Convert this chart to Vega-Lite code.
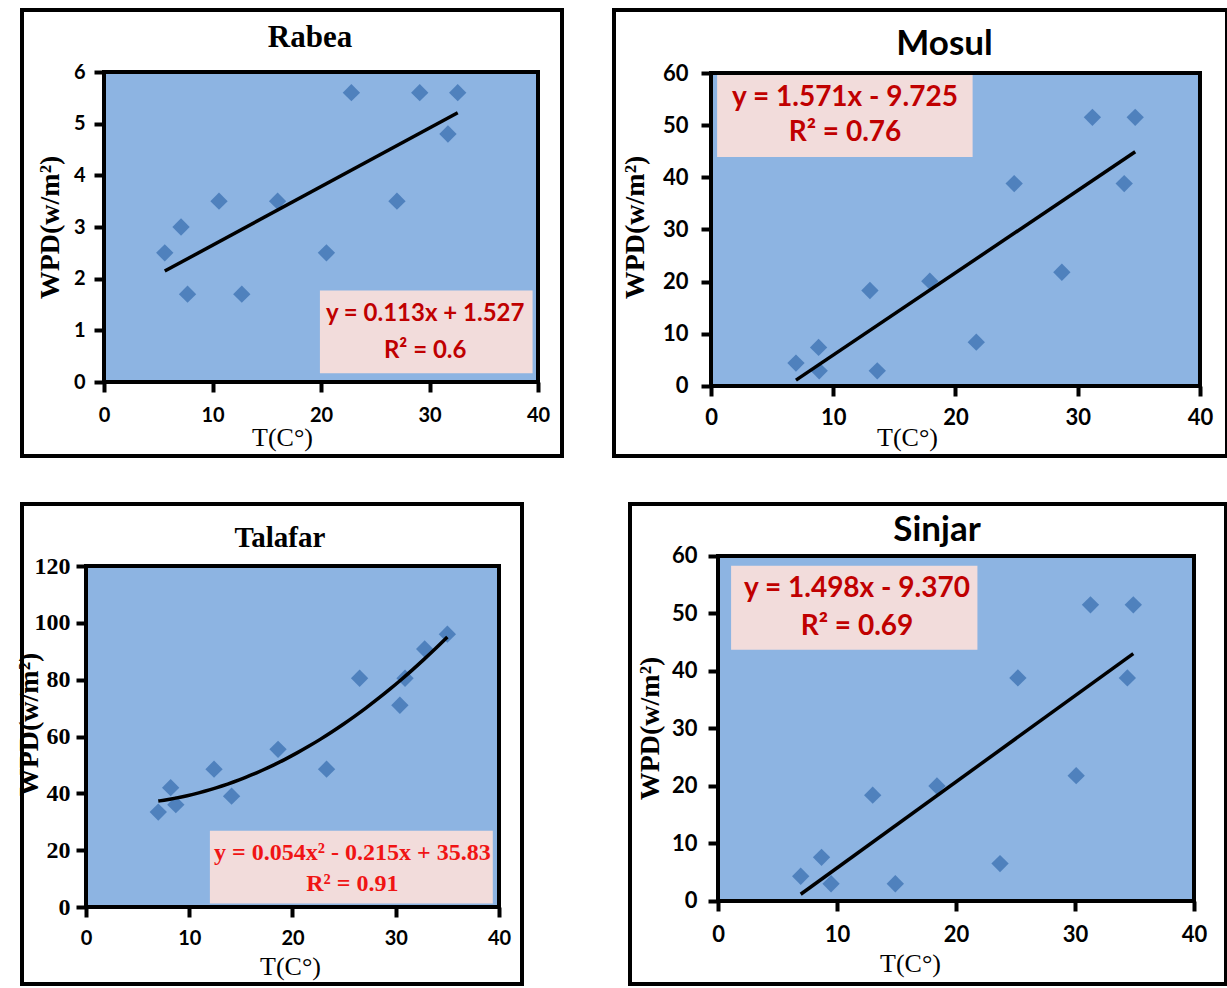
{
  "$schema": "https://vega.github.io/schema/vega-lite/v6.json",
  "background": "white",
  "padding": {"left": 13, "top": 8, "right": 0, "bottom": 0},
  "config": {
    "view": {"fill": "white", "stroke": "black", "strokeWidth": 4},
    "axis": {"domain": false, "grid": false, "ticks": true, "tickColor": "black", "tickWidth": 4, "tickSize": 10,
             "labelColor": "black", "labelFontWeight": "bold", "labelFont": "Lato", "labelFlush": false, "labelOverlap": false, "labelBound": false,
             "titleColor": "black", "titleBaseline": "middle", "titleAlign": "center"}
  },
  "datasets": {
    "rabea": [{"T":5.6,"WPD":2.5},{"T":7.1,"WPD":3.0},{"T":7.7,"WPD":1.7},{"T":10.6,"WPD":3.5},{"T":12.7,"WPD":1.7},{"T":16.0,"WPD":3.5},{"T":20.5,"WPD":2.5},{"T":22.8,"WPD":5.6},{"T":27.0,"WPD":3.5},{"T":29.1,"WPD":5.6},{"T":31.7,"WPD":4.8},{"T":32.6,"WPD":5.6}],
    "mosul": [{"T":6.95,"WPD":4.4},{"T":8.8,"WPD":7.4},{"T":8.85,"WPD":2.9},{"T":13.0,"WPD":18.3},{"T":13.6,"WPD":2.9},{"T":17.9,"WPD":20.1},{"T":21.7,"WPD":8.4},{"T":24.8,"WPD":38.8},{"T":28.7,"WPD":21.8},{"T":31.2,"WPD":51.5},{"T":33.8,"WPD":38.8},{"T":34.7,"WPD":51.5}],
    "talafar": [{"T":7.0,"WPD":33.4},{"T":8.2,"WPD":42.0},{"T":8.7,"WPD":36.0},{"T":12.4,"WPD":48.5},{"T":14.1,"WPD":39.0},{"T":18.6,"WPD":55.5},{"T":23.3,"WPD":48.5},{"T":26.5,"WPD":80.5},{"T":30.4,"WPD":71.0},{"T":30.9,"WPD":80.5},{"T":32.8,"WPD":90.8},{"T":35.0,"WPD":96.0}],
    "sinjar": [{"T":6.95,"WPD":4.3},{"T":8.7,"WPD":7.6},{"T":9.5,"WPD":3.0},{"T":13.0,"WPD":18.4},{"T":14.9,"WPD":3.0},{"T":18.4,"WPD":20.0},{"T":23.7,"WPD":6.5},{"T":25.2,"WPD":38.8},{"T":30.1,"WPD":21.8},{"T":31.3,"WPD":51.5},{"T":34.4,"WPD":38.8},{"T":34.9,"WPD":51.5}]
  },
  "vconcat": [
    {
      "hconcat": [
        {
          "width": 540, "height": 446,
          "title": {"text": "Rabea", "font": "Liberation Serif", "fontSize": 31, "fontWeight": "bold", "color": "black", "anchor": "middle", "frame": "group", "baseline": "middle", "offset": -59, "dx": 18},
          "data": {"name": "rabea"},
          "layer": [
            {"data": {"values": [{}]}, "mark": {"type": "rect", "fill": "#8DB4E2", "stroke": "black", "strokeWidth": 4},
             "encoding": {"x": {"datum": 0, "type": "quantitative", "title": "T(C°)"}, "x2": {"datum": 40}, "y": {"datum": 0, "type": "quantitative", "title": "WPD(w/m²)"}, "y2": {"datum": 6}}},
            {"mark": {"type": "point", "shape": "diamond", "filled": true, "color": "#4F81BD", "size": 300, "opacity": 1},
             "encoding": {
               "x": {"field": "T", "type": "quantitative", "title": "T(C°)", "scale": {"domain": [-7.558, 42.212], "nice": false, "zero": false},
                     "axis": {"values": [0,10,20,30,40], "offset": -74, "labelFontSize": 20, "labelPadding": 13, "titleFont": "Liberation Serif", "titleFontWeight": "normal", "titleFontSize": 26, "titleX": 260, "titleY": 55}},
               "y": {"field": "WPD", "type": "quantitative", "title": "WPD(w/m²)", "scale": {"domain": [-1.432, 7.2], "nice": false, "zero": false},
                     "axis": {"values": [0,1,2,3,4,5,6], "offset": -82, "labelFontSize": 20, "labelPadding": 9, "titleFont": "Liberation Serif", "titleFontWeight": "bold", "titleFontSize": 28, "titleAngle": -90, "titleX": -54, "titleY": 217}}
             }},
            {"transform": [{"regression": "WPD", "on": "T", "method": "linear"}], "mark": {"type": "line", "color": "black", "strokeWidth": 3.5},
             "encoding": {"x": {"field": "T", "type": "quantitative", "title": "T(C°)"}, "y": {"field": "WPD", "type": "quantitative", "title": "WPD(w/m²)"}}},
            {"data": {"values": [{}]}, "mark": {"type": "rect", "fill": "#F2DCDB"},
             "encoding": {"x": {"datum": 19.9, "type": "quantitative", "title": "T(C°)"}, "x2": {"datum": 39.5}, "y": {"datum": 0.17, "type": "quantitative", "title": "WPD(w/m²)"}, "y2": {"datum": 1.77}}},
            {"data": {"values": [{}]}, "mark": {"type": "text", "text": ["y = 0.113x + 1.527", "R² = 0.6"], "font": "Lato", "fontWeight": "bold", "fontSize": 24, "color": "#C00000", "align": "center", "baseline": "middle", "lineHeight": 37},
             "encoding": {"x": {"datum": 29.6, "type": "quantitative", "title": "T(C°)"}, "y": {"datum": 1.316, "type": "quantitative", "title": "WPD(w/m²)"}}}
          ]
        },
        {
          "width": 613, "height": 446,
          "title": {"text": "Mosul", "font": "Lato", "fontSize": 35, "fontWeight": "bold", "color": "black", "anchor": "middle", "frame": "group", "baseline": "middle", "offset": -69, "dx": 24},
          "data": {"name": "mosul"},
          "layer": [
            {"data": {"values": [{}]}, "mark": {"type": "rect", "fill": "#8DB4E2", "stroke": "black", "strokeWidth": 4},
             "encoding": {"x": {"datum": 0, "type": "quantitative", "title": "T(C°)"}, "x2": {"datum": 40}, "y": {"datum": 0, "type": "quantitative", "title": "WPD(w/m²)"}, "y2": {"datum": 60}}},
            {"mark": {"type": "point", "shape": "diamond", "filled": true, "color": "#4F81BD", "size": 300, "opacity": 1},
             "encoding": {
               "x": {"field": "T", "type": "quantitative", "title": "T(C°)", "scale": {"domain": [-7.935, 42.209], "nice": false, "zero": false},
                     "axis": {"values": [0,10,20,30,40], "offset": -70, "labelFontSize": 22, "labelPadding": 11, "titleFont": "Liberation Serif", "titleFontWeight": "normal", "titleFontSize": 26, "titleX": 293, "titleY": 51}},
               "y": {"field": "WPD", "type": "quantitative", "title": "WPD(w/m²)", "scale": {"domain": [-13.419, 72.077], "nice": false, "zero": false},
                     "axis": {"values": [0,10,20,30,40,50,60], "offset": -97, "labelFontSize": 22, "labelPadding": 13, "titleFont": "Liberation Serif", "titleFontWeight": "bold", "titleFontSize": 28, "titleAngle": -90, "titleX": -76, "titleY": 217}}
             }},
            {"transform": [{"regression": "WPD", "on": "T", "method": "linear"}], "mark": {"type": "line", "color": "black", "strokeWidth": 3.5},
             "encoding": {"x": {"field": "T", "type": "quantitative", "title": "T(C°)"}, "y": {"field": "WPD", "type": "quantitative", "title": "WPD(w/m²)"}}},
            {"data": {"values": [{}]}, "mark": {"type": "rect", "fill": "#F2DCDB"},
             "encoding": {"x": {"datum": 0.5, "type": "quantitative", "title": "T(C°)"}, "x2": {"datum": 21.4}, "y": {"datum": 43.9, "type": "quantitative", "title": "WPD(w/m²)"}, "y2": {"datum": 59.6}}},
            {"data": {"values": [{}]}, "mark": {"type": "text", "text": ["y = 1.571x - 9.725", "R² = 0.76"], "font": "Lato", "fontWeight": "bold", "fontSize": 28, "color": "#C00000", "align": "center", "baseline": "middle", "lineHeight": 35},
             "encoding": {"x": {"datum": 10.96, "type": "quantitative", "title": "T(C°)"}, "y": {"datum": 55.2, "type": "quantitative", "title": "WPD(w/m²)"}}}
          ]
        }
      ],
      "spacing": 48
    },
    {
      "hconcat": [
        {
          "width": 500, "height": 480,
          "title": {"text": "Talafar", "font": "Liberation Serif", "fontSize": 29, "fontWeight": "bold", "color": "black", "anchor": "middle", "frame": "group", "baseline": "middle", "offset": -63, "dx": 8},
          "data": {"name": "talafar"},
          "layer": [
            {"data": {"values": [{}]}, "mark": {"type": "rect", "fill": "#8DB4E2", "stroke": "black", "strokeWidth": 4},
             "encoding": {"x": {"datum": 0, "type": "quantitative", "title": "T(C°)"}, "x2": {"datum": 40}, "y": {"datum": 0, "type": "quantitative", "title": "WPD(w/m²)"}, "y2": {"datum": 120}}},
            {"mark": {"type": "point", "shape": "diamond", "filled": true, "color": "#4F81BD", "size": 300, "opacity": 1},
             "encoding": {
               "x": {"field": "T", "type": "quantitative", "title": "T(C°)", "scale": {"domain": [-6.199, 42.228], "nice": false, "zero": false},
                     "axis": {"values": [0,10,20,30,40], "offset": -77, "labelFontSize": 20, "labelPadding": 11, "titleFont": "Liberation Serif", "titleFontWeight": "normal", "titleFontSize": 26, "titleX": 268, "titleY": 59}},
               "y": {"field": "WPD", "type": "quantitative", "title": "WPD(w/m²)", "scale": {"domain": [-27.097, 141.82], "nice": false, "zero": false},
                     "axis": {"values": [0,20,40,60,80,100,120], "offset": -64, "labelFont": "Liberation Serif", "labelFontSize": 24, "labelPadding": 6, "titleFont": "Liberation Serif", "titleFontWeight": "bold", "titleFontSize": 28, "titleAngle": -90, "titleX": -57, "titleY": 220}}
             }},
            {"transform": [{"regression": "WPD", "on": "T", "method": "poly", "order": 2}], "mark": {"type": "line", "color": "black", "strokeWidth": 3.5, "interpolate": "monotone"},
             "encoding": {"x": {"field": "T", "type": "quantitative", "title": "T(C°)"}, "y": {"field": "WPD", "type": "quantitative", "title": "WPD(w/m²)"}}},
            {"data": {"values": [{}]}, "mark": {"type": "rect", "fill": "#F2DCDB"},
             "encoding": {"x": {"datum": 12.0, "type": "quantitative", "title": "T(C°)"}, "x2": {"datum": 39.4}, "y": {"datum": 1.2, "type": "quantitative", "title": "WPD(w/m²)"}, "y2": {"datum": 26.8}}},
            {"data": {"values": [{}]}, "mark": {"type": "text", "text": ["y = 0.054x² - 0.215x + 35.83", "R² = 0.91"], "font": "Liberation Serif", "fontWeight": "bold", "fontSize": 24, "color": "#F01414", "align": "center", "baseline": "middle", "lineHeight": 31},
             "encoding": {"x": {"datum": 25.8, "type": "quantitative", "title": "T(C°)"}, "y": {"datum": 19.0, "type": "quantitative", "title": "WPD(w/m²)"}}}
          ]
        },
        {
          "width": 596, "height": 480,
          "title": {"text": "Sinjar", "font": "Lato", "fontSize": 35, "fontWeight": "bold", "color": "black", "anchor": "middle", "frame": "group", "baseline": "middle", "offset": -61, "dx": 9},
          "data": {"name": "sinjar"},
          "layer": [
            {"data": {"values": [{}]}, "mark": {"type": "rect", "fill": "#8DB4E2", "stroke": "black", "strokeWidth": 4},
             "encoding": {"x": {"datum": 0, "type": "quantitative", "title": "T(C°)"}, "x2": {"datum": 40}, "y": {"datum": 0, "type": "quantitative", "title": "WPD(w/m²)"}, "y2": {"datum": 60}}},
            {"mark": {"type": "point", "shape": "diamond", "filled": true, "color": "#4F81BD", "size": 300, "opacity": 1},
             "encoding": {
               "x": {"field": "T", "type": "quantitative", "title": "T(C°)", "scale": {"domain": [-7.395, 42.689], "nice": false, "zero": false},
                     "axis": {"values": [0,10,20,30,40], "offset": -83, "labelFontSize": 22, "labelPadding": 13, "titleFont": "Liberation Serif", "titleFontWeight": "normal", "titleFontSize": 26, "titleX": 280, "titleY": 62}},
               "y": {"field": "WPD", "type": "quantitative", "title": "WPD(w/m²)", "scale": {"domain": [-14.435, 69.043], "nice": false, "zero": false},
                     "axis": {"values": [0,10,20,30,40,50,60], "offset": -88, "labelFontSize": 22, "labelPadding": 11, "titleFont": "Liberation Serif", "titleFontWeight": "bold", "titleFontSize": 28, "titleAngle": -90, "titleX": -68, "titleY": 224}}
             }},
            {"transform": [{"regression": "WPD", "on": "T", "method": "linear"}], "mark": {"type": "line", "color": "black", "strokeWidth": 3.5},
             "encoding": {"x": {"field": "T", "type": "quantitative", "title": "T(C°)"}, "y": {"field": "WPD", "type": "quantitative", "title": "WPD(w/m²)"}}},
            {"data": {"values": [{}]}, "mark": {"type": "rect", "fill": "#F2DCDB"},
             "encoding": {"x": {"datum": 1.1, "type": "quantitative", "title": "T(C°)"}, "x2": {"datum": 21.8}, "y": {"datum": 43.7, "type": "quantitative", "title": "WPD(w/m²)"}, "y2": {"datum": 58.3}}},
            {"data": {"values": [{}]}, "mark": {"type": "text", "text": ["y = 1.498x - 9.370", "R² = 0.69"], "font": "Lato", "fontWeight": "bold", "fontSize": 28, "color": "#C00000", "align": "center", "baseline": "middle", "lineHeight": 38},
             "encoding": {"x": {"datum": 11.68, "type": "quantitative", "title": "T(C°)"}, "y": {"datum": 54.26, "type": "quantitative", "title": "WPD(w/m²)"}}}
          ]
        }
      ],
      "spacing": 104
    }
  ],
  "spacing": 44
}
